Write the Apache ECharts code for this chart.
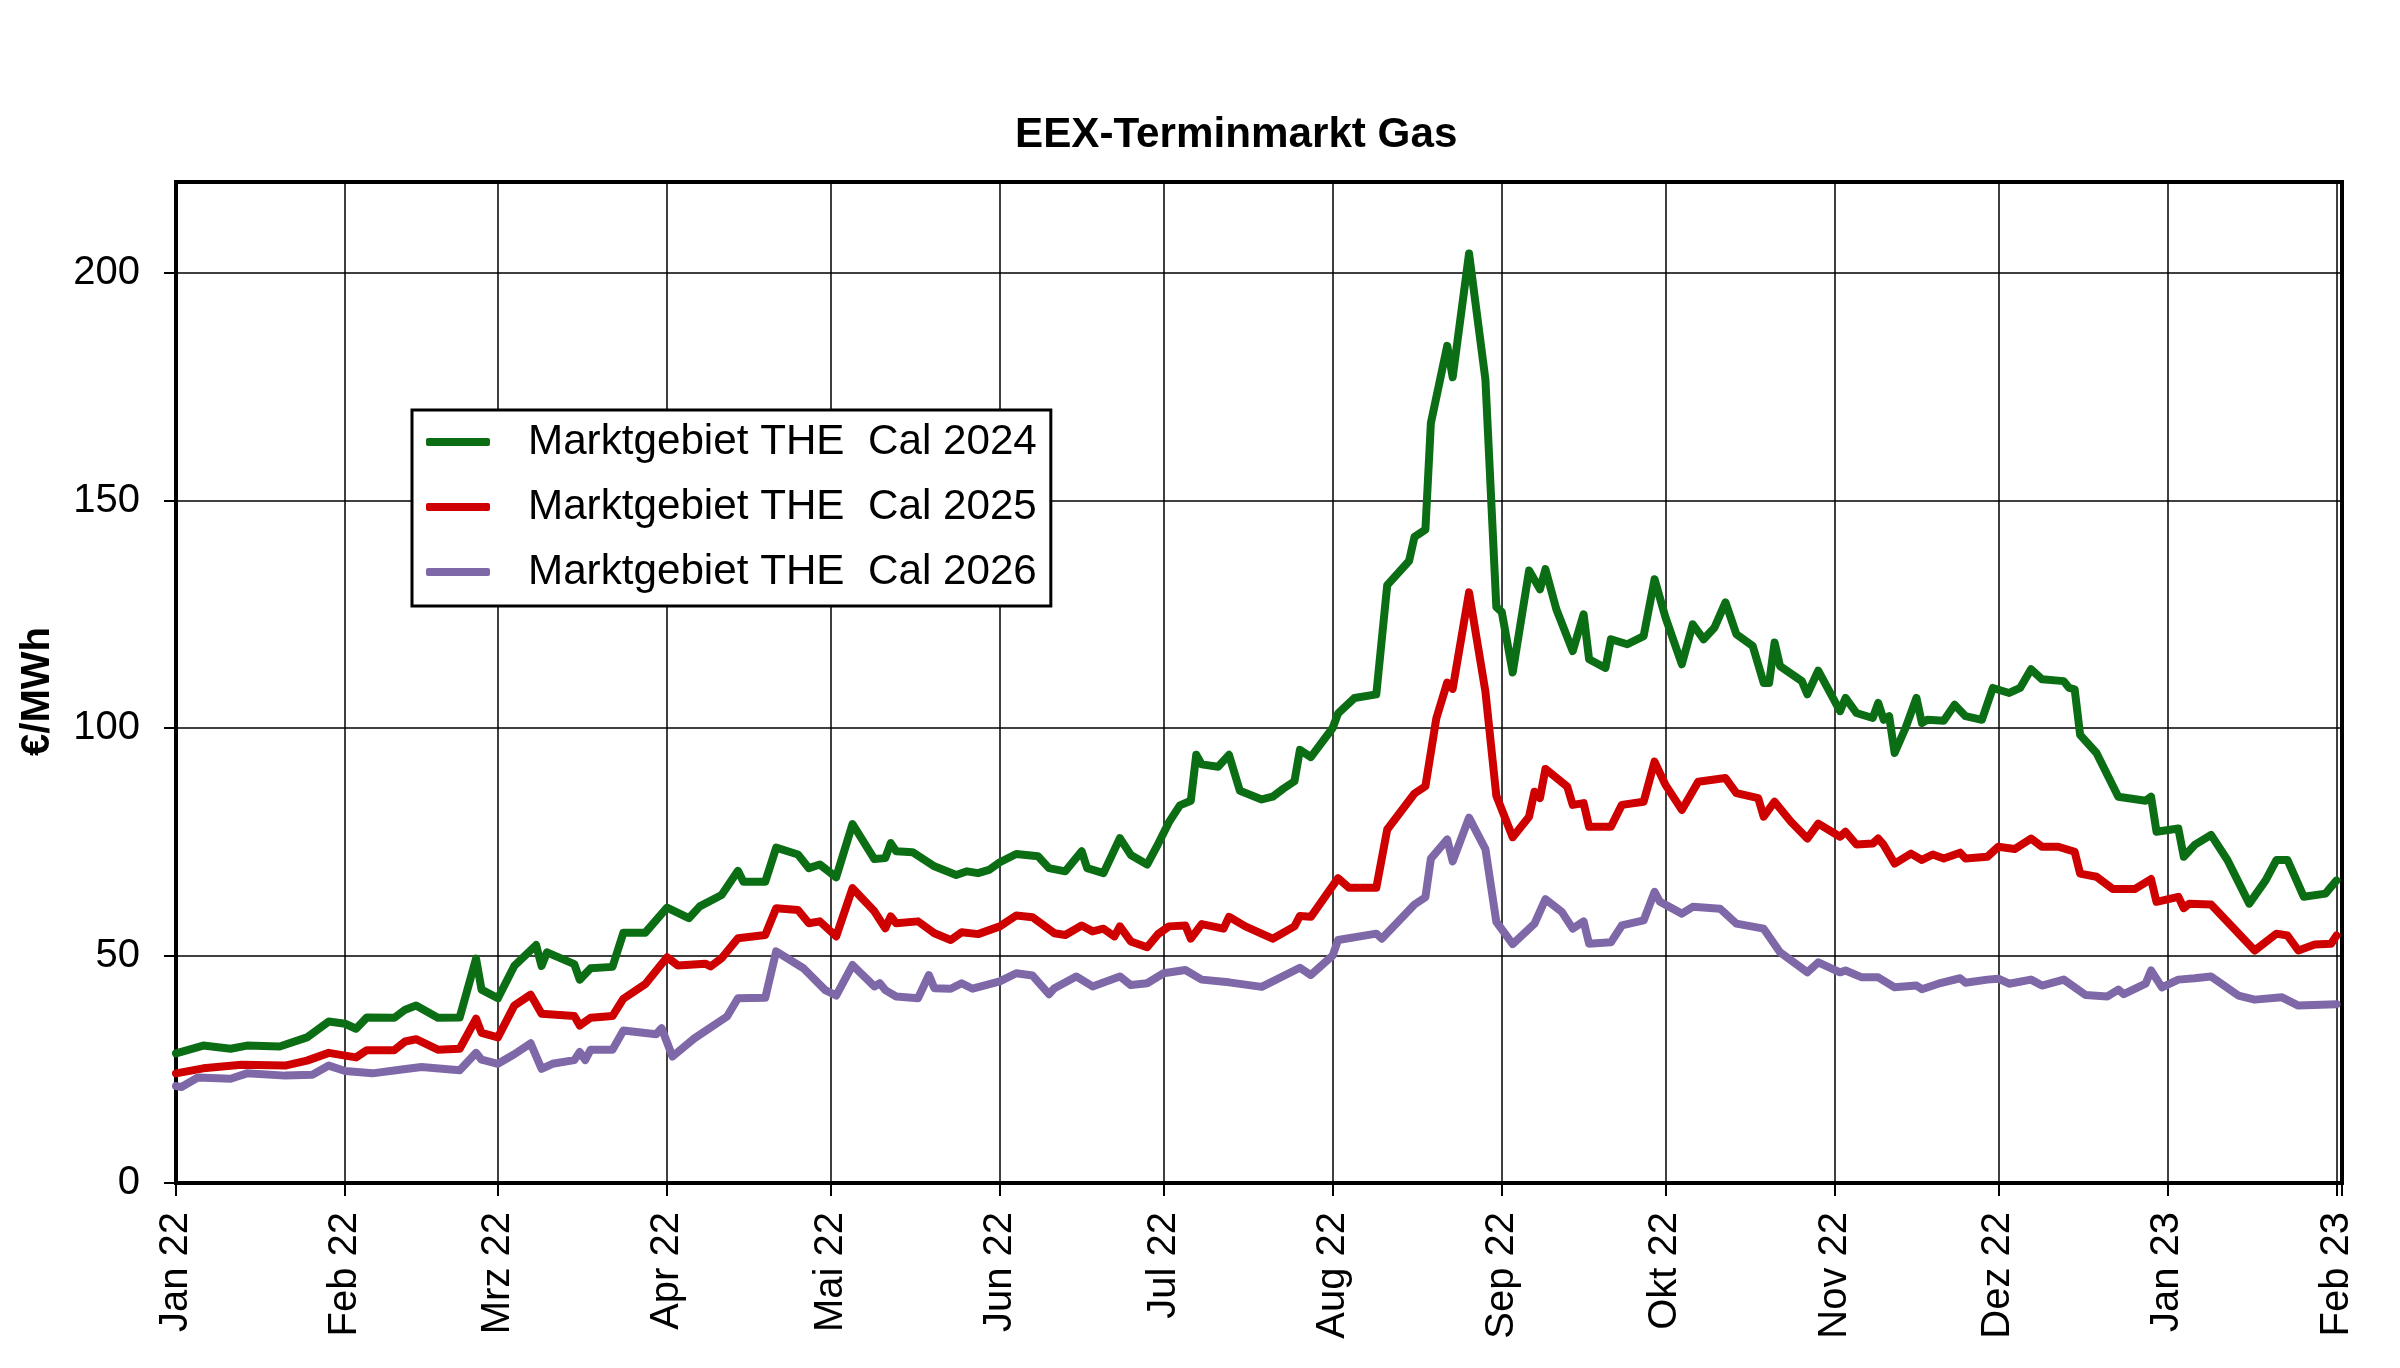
<!DOCTYPE html>
<html>
<head>
<meta charset="utf-8">
<title>EEX-Terminmarkt Gas</title>
<script src="https://cdn.jsdelivr.net/npm/echarts@6/dist/echarts.min.js"></script>
<style>
  html, body { margin: 0; padding: 0; background: #fff; }
  #chart { width: 2400px; height: 1368px; }
</style>
</head>
<body>
<div id="chart"></div>
<script>
// [Tage seit 01.01.2022, €/MWh]
var cal2024 = [[0,28.5],[5,30.2],[10,29.5],[13,30.2],[19,30],[24,32],[28,35.5],[31,35],[33,33.9],[35,36.4],[40,36.3],[42,38.1],[44,39],[48,36.3],[52,36.4],[55,49.3],[56,42.5],[59,40.6],[62,47.7],[66,52.3],[67,47.7],[68,50.7],[73,48.1],[74,44.7],[76,47.2],[80,47.5],[82,55],[86,55],[90,60.5],[94,58.2],[96,60.8],[100,63.3],[103,68.6],[104,66.2],[108,66.2],[110,73.7],[114,72.2],[116,69.2],[118,70],[121,67.2],[124,78.9],[128,71.2],[130,71.4],[131,74.7],[132,72.9],[135,72.7],[139,69.6],[143,67.7],[145,68.5],[147,68.1],[149,68.8],[151,70.5],[154,72.3],[158,71.8],[160,69.2],[163,68.5],[166,72.9],[167,69.2],[170,68.1],[173,75.8],[175,72.1],[178,70],[180,74.5],[182,79.3],[184,83],[186,84],[187,94.1],[188,92],[191,91.5],[193,94.1],[195,86.2],[199,84.3],[201,84.9],[203,86.7],[205,88.3],[206,95.2],[208,93.6],[212,100],[213,103.2],[216,106.6],[220,107.4],[222,131.4],[226,136.7],[227,142],[229,143.6],[230,167],[233,184],[234,177.1],[237,204.3],[240,176.6],[242,126.6],[243,125.5],[245,112.2],[248,134.6],[250,130.5],[251,134.9],[253,126.1],[256,116.9],[258,125],[259,115.1],[262,113.2],[263,119.5],[266,118.4],[269,120.2],[271,132.7],[273,124.3],[276,114],[278,122.8],[280,119.5],[282,122.1],[284,127.6],[286,120.6],[289,118],[291,109.9],[292,109.9],[293,118.8],[294,113.6],[298,110.3],[299,107.4],[301,112.6],[305,103.7],[306,106.6],[308,103.3],[311,102.2],[312,105.5],[313,101.8],[314,102.6],[315,94.5],[317,100],[319,106.6],[320,101.1],[321,101.8],[324,101.6],[326,105.1],[328,102.6],[331,101.8],[333,108.8],[336,107.7],[338,108.8],[340,112.9],[342,110.7],[346,110.3],[347,108.8],[348,108.5],[349,98.5],[352,94.5],[356,84.9],[361,84],[362,84.9],[363,77.2],[367,77.9],[368,71.7],[370,74.3],[373,76.5],[376,71],[380,61.4],[383,66.5],[385,71],[387,71],[390,62.9],[394,63.6],[395,65.1],[396,66.5]];

var cal2025 = [[0,24.1],[5,25.2],[12,26],[20,25.8],[24,26.9],[28,28.6],[31,28],[33,27.6],[35,29.2],[40,29.2],[42,31.1],[44,31.6],[48,29.3],[52,29.5],[55,36.1],[56,33],[59,32],[62,39],[65,41.4],[67,37.2],[73,36.7],[74,34.6],[76,36.3],[80,36.7],[82,40.5],[86,43.7],[90,49.6],[92,47.8],[97,48.2],[98,47.6],[100,49.4],[103,53.8],[108,54.5],[110,60.4],[114,60],[116,57.1],[118,57.5],[121,54.2],[124,64.8],[128,59.7],[130,56],[131,58.6],[132,57.1],[136,57.5],[139,54.9],[142,53.4],[144,55.1],[147,54.7],[151,56.4],[154,58.8],[157,58.4],[161,54.9],[163,54.5],[166,56.6],[168,55.3],[170,55.9],[172,54.2],[173,56.4],[175,53.1],[178,51.8],[180,54.7],[182,56.4],[185,56.6],[186,53.7],[188,56.9],[192,55.9],[193,58.5],[196,56.4],[201,53.7],[205,56.4],[206,58.7],[208,58.5],[213,67],[215,64.9],[220,64.9],[222,77.7],[227,85.6],[229,87.2],[231,102.1],[233,110],[234,108.6],[237,129.8],[240,108],[242,85.1],[245,76],[248,80.5],[249,86],[250,84.6],[251,91],[255,87.1],[256,83.1],[258,83.5],[259,78.3],[263,78.3],[265,83.1],[269,83.8],[271,92.6],[273,87.5],[276,82],[279,88.2],[284,89],[286,85.7],[290,84.6],[291,80.5],[293,83.8],[296,79.4],[299,75.7],[301,79],[305,76.1],[306,77.2],[308,74.4],[311,74.6],[312,75.7],[313,74.3],[315,70.2],[318,72.4],[320,71],[322,72.2],[324,71.3],[327,72.6],[328,71.3],[332,71.7],[334,73.9],[337,73.4],[340,75.7],[342,73.9],[345,73.9],[348,72.8],[349,68],[352,67.3],[355,64.6],[359,64.6],[362,66.8],[363,61.8],[367,62.9],[368,60.4],[369,61.4],[373,61.2],[381,51.1],[385,54.8],[387,54.4],[389,51.1],[392,52.4],[395,52.6],[396,54.4]];

var cal2026 = [[0,21.3],[1,21.1],[4,23.2],[10,22.9],[13,24.1],[20,23.6],[25,23.8],[28,25.8],[31,24.6],[36,24.1],[41,24.9],[45,25.5],[52,24.8],[55,28.6],[56,27.1],[59,26.2],[62,28.3],[65,30.7],[67,25.1],[69,26.2],[73,27],[74,28.8],[75,27],[76,29.3],[80,29.3],[82,33.5],[88,32.7],[89,34],[91,27.8],[95,31.8],[101,36.6],[103,40.6],[108,40.7],[110,50.9],[115,47.2],[119,42.4],[121,41.2],[124,47.9],[128,43.2],[129,43.9],[130,42.4],[132,41],[136,40.6],[138,45.7],[139,42.8],[142,42.7],[144,43.9],[146,42.7],[151,44.3],[154,46.1],[157,45.6],[160,41.5],[161,42.8],[165,45.4],[168,43.2],[173,45.4],[175,43.5],[178,43.9],[181,46.1],[185,46.8],[188,44.7],[193,44.1],[199,43.1],[206,47.3],[208,45.7],[212,50],[213,53.4],[220,54.8],[221,53.7],[227,61.2],[229,62.8],[230,71.3],[233,75.5],[234,70.7],[237,80.3],[240,73.4],[242,57.4],[245,52.5],[249,57],[251,62.4],[254,59.6],[256,55.9],[258,57.5],[259,52.6],[263,52.9],[265,56.6],[269,57.7],[271,64],[272,61.8],[276,59.2],[278,60.7],[283,60.3],[286,57],[291,55.9],[294,50.7],[299,46.3],[301,48.5],[305,46.3],[306,46.7],[309,45.2],[312,45.2],[315,43],[319,43.4],[320,42.6],[323,43.8],[327,45],[328,44],[332,44.7],[334,44.9],[336,43.8],[340,44.7],[342,43.4],[346,44.7],[350,41.3],[354,41],[356,42.5],[357,41.5],[361,43.8],[362,46.7],[364,43],[367,44.7],[370,45],[373,45.4],[378,41.2],[381,40.3],[386,40.8],[389,39],[396,39.3]];

var seriesNames = ['Marktgebiet THE  Cal 2024', 'Marktgebiet THE  Cal 2025', 'Marktgebiet THE  Cal 2026'];
var seriesColors = ['#0b6e14', '#cf0000', '#7e68a8'];
var monthNames = ['Jan', 'Feb', 'Mrz', 'Apr', 'Mai', 'Jun', 'Jul', 'Aug', 'Sep', 'Okt', 'Nov', 'Dez'];

var DAY = 86400000;
var START = Date.UTC(2022, 0, 1);

function toPoints(list) {
    return list.map(function (p) {
        return [START + p[0] * DAY, p[1]];
    });
}

var FONT = 'Liberation Sans, Arial, sans-serif';
var chart = echarts.init(document.getElementById('chart'));

var option = {
    useUTC: true,
    animation: false,
    backgroundColor: '#fff',
    textStyle: {fontFamily: FONT, color: '#000'},
    title: {
        text: 'EEX-Terminmarkt Gas',
        left: 1015,
        top: 114,
        padding: 0,
        textStyle: {fontFamily: FONT, fontSize: 42.2, fontWeight: 'bold', color: '#000'}
    },
    grid: {
        left: 176, right: 58, top: 182, bottom: 185,
        show: true,
        borderColor: '#000',
        borderWidth: 4,
        containLabel: false
    },
    legend: {
        orient: 'vertical',
        left: 412,
        top: 410,
        padding: [9, 14, 11, 14],
        itemGap: 19,
        itemWidth: 64,
        itemHeight: 8,
        icon: 'roundRect',
        backgroundColor: '#fff',
        borderColor: '#000',
        borderWidth: 3,
        textStyle: {fontFamily: FONT, fontSize: 42.2, color: '#000', lineHeight: 46, padding: [0, 0, 0, 33]},
        data: seriesNames
    },
    xAxis: {
        type: 'time',
        min: START,
        max: Date.UTC(2023, 1, 2),
        minInterval: 28 * DAY,
        maxInterval: 31 * DAY,
        splitNumber: 13,
        axisLine: {show: true, lineStyle: {color: '#000', width: 4}},
        axisTick: {show: true, length: 13, lineStyle: {color: '#000', width: 2}},
        splitLine: {show: true, lineStyle: {color: '#000', width: 1.5}},
        axisLabel: {
            rotate: 90,
            margin: 29,
            fontSize: 40,
            color: '#000',
            fontFamily: FONT,
            showMinLabel: true,
            showMaxLabel: true,
            formatter: function (value) {
                var d = new Date(value);
                if (d.getUTCDate() !== 1) {
                    return '';
                }
                return monthNames[d.getUTCMonth()] + ' ' + String(d.getUTCFullYear()).slice(2);
            }
        }
    },
    yAxis: {
        type: 'value',
        min: 0,
        max: 220,
        interval: 50,
        name: '€/MWh',
        nameLocation: 'middle',
        nameGap: 118,
        nameTextStyle: {fontFamily: FONT, fontSize: 40, fontWeight: 'bold', color: '#000', padding: [0, 18, 0, 0]},
        axisLine: {show: true, lineStyle: {color: '#000', width: 4}},
        axisTick: {show: true, length: 12, lineStyle: {color: '#000', width: 2}},
        splitLine: {show: true, lineStyle: {color: '#000', width: 1.5}},
        axisLabel: {margin: 36, fontSize: 40, color: '#000', fontFamily: FONT, showMaxLabel: false}
    },
    series: [cal2024, cal2025, cal2026].map(function (list, i) {
        return {
            name: seriesNames[i],
            type: 'line',
            showSymbol: false,
            symbol: 'none',
            color: seriesColors[i],
            lineStyle: {width: 8, color: seriesColors[i], join: 'round', cap: 'round'},
            data: toPoints(list)
        };
    })
};

chart.setOption(option);
</script>
</body>
</html>
